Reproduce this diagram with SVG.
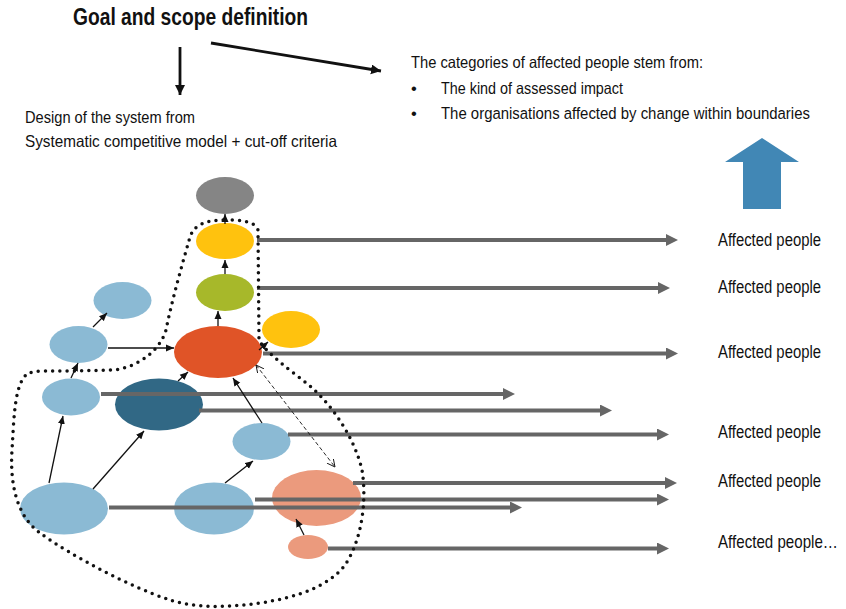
<svg xmlns="http://www.w3.org/2000/svg" width="846" height="609" viewBox="0 0 846 609">
<style>
.t{font-family:"Liberation Sans Narrow","Liberation Sans",Arial,sans-serif;fill:#111;}
.b{font-weight:bold;}
.g{stroke:#666;stroke-width:4;fill:none;marker-end:url(#ga);}
.k{stroke:#111;stroke-width:1.3;fill:none;marker-end:url(#ba);}
.lb{fill:#8BBAD4;}
</style>
<defs>
<marker id="ga" markerUnits="userSpaceOnUse" markerWidth="12" markerHeight="12" refX="0" refY="6" orient="auto"><path d="M0,0 L12,6 L0,12 Z" fill="#666"/></marker>
<marker id="ba" markerUnits="userSpaceOnUse" markerWidth="8" markerHeight="8" refX="8" refY="4" orient="auto"><path d="M0,0.5 L8,4 L0,7.5 Z" fill="#111"/></marker>
<marker id="bb" markerUnits="userSpaceOnUse" markerWidth="11" markerHeight="11" refX="10" refY="5" orient="auto"><path d="M0,0 L10,5 L0,10 Z" fill="#111"/></marker>
<marker id="op" markerUnits="userSpaceOnUse" markerWidth="10" markerHeight="10" refX="8" refY="4" orient="auto-start-reverse"><path d="M0,0 L8,4 L0,8" fill="none" stroke="#111" stroke-width="0.9"/></marker>
</defs>
<rect width="846" height="609" fill="#fff"/>

<g id="texts">
<text class="t b" x="73" y="25" font-size="23" textLength="235" lengthAdjust="spacingAndGlyphs">Goal and scope definition</text>
<text class="t" x="25" y="123" font-size="16.5" textLength="170" lengthAdjust="spacingAndGlyphs">Design of the system from</text>
<text class="t" x="25" y="147" font-size="16.5" textLength="312" lengthAdjust="spacingAndGlyphs">Systematic competitive model + cut-off criteria</text>
<text class="t" x="411" y="68" font-size="16.5" textLength="292" lengthAdjust="spacingAndGlyphs">The categories of affected people stem from:</text>
<text class="t" x="411" y="94" font-size="16.5">•</text>
<text class="t" x="441" y="94" font-size="16.5" textLength="182" lengthAdjust="spacingAndGlyphs">The kind of assessed impact</text>
<text class="t" x="411" y="119" font-size="16.5">•</text>
<text class="t" transform="translate(441,119) scale(0.85,1)" x="0" y="0" font-size="16.5" textLength="434" lengthAdjust="spacingAndGlyphs">The organisations affected by change within boundaries</text>
<text class="t" x="718" y="246" font-size="17.5" textLength="103" lengthAdjust="spacingAndGlyphs">Affected people</text>
<text class="t" x="718" y="293" font-size="17.5" textLength="103" lengthAdjust="spacingAndGlyphs">Affected people</text>
<text class="t" x="718" y="358" font-size="17.5" textLength="103" lengthAdjust="spacingAndGlyphs">Affected people</text>
<text class="t" x="718" y="438" font-size="17.5" textLength="103" lengthAdjust="spacingAndGlyphs">Affected people</text>
<text class="t" x="718" y="487" font-size="17.5" textLength="103" lengthAdjust="spacingAndGlyphs">Affected people</text>
<text class="t" transform="translate(718,548) scale(0.86,1)" x="0" y="0" font-size="17.5" textLength="139.5" lengthAdjust="spacingAndGlyphs">Affected people…</text>
</g>

<g id="up-arrow">
<polygon points="762,138 799,162 781,162 781,209 743,209 743,162 725,162" fill="#4187B5"/>
</g>

<g id="n-gray"><ellipse cx="225" cy="195.5" rx="29" ry="18.5" fill="#858585"/></g>
<g id="n-yellow-top"><ellipse cx="225" cy="241" rx="29" ry="18" fill="#FFC20E"/></g>
<g id="n-green"><ellipse cx="225" cy="292.5" rx="29" ry="18.5" fill="#A7B82A"/></g>
<g id="n-yellow-right"><ellipse cx="291" cy="329.5" rx="29" ry="18.5" fill="#FFC20E"/></g>
<g id="n-orange"><ellipse cx="218" cy="352" rx="44" ry="26" fill="#E05427"/></g>
<g id="n-blue-topleft"><ellipse class="lb" cx="122.5" cy="300.5" rx="29" ry="18.5"/></g>
<g id="n-blue-midleft"><ellipse class="lb" cx="78.5" cy="344.5" rx="29" ry="18.5"/></g>
<g id="n-blue-left"><ellipse class="lb" cx="71" cy="397" rx="29" ry="18.5"/></g>
<g id="n-darkblue"><ellipse cx="159" cy="404.5" rx="44" ry="26" fill="#316885"/></g>
<g id="n-blue-right"><ellipse class="lb" cx="261.5" cy="441.5" rx="29" ry="18.5"/></g>
<g id="n-blue-bigleft"><ellipse class="lb" cx="64" cy="508.5" rx="44" ry="26"/></g>
<g id="n-blue-bottom"><ellipse class="lb" cx="214" cy="508.5" rx="40" ry="26"/></g>
<g id="n-salmon-big"><ellipse cx="316.5" cy="498" rx="44.5" ry="28" fill="#EB9A7D"/></g>
<g id="n-salmon-small"><ellipse cx="308" cy="547" rx="20" ry="12" fill="#EB9A7D"/></g>

<g id="connectors">
<line class="g" x1="257" y1="240" x2="666" y2="240"/>
<line class="g" x1="257" y1="288" x2="658" y2="288"/>
<line class="g" x1="263" y1="353.5" x2="666" y2="353.5"/>
<line class="g" x1="101" y1="394" x2="503" y2="394"/>
<line class="g" x1="199" y1="410.5" x2="600" y2="410.5"/>
<line class="g" x1="288" y1="434.5" x2="657" y2="434.5"/>
<line class="g" x1="353" y1="483" x2="665" y2="483"/>
<line class="g" x1="255" y1="499.5" x2="657" y2="499.5"/>
<line class="g" x1="109" y1="507.5" x2="510" y2="507.5"/>
<line class="g" x1="328" y1="548.5" x2="657" y2="548.5"/>

<line class="k" x1="225" y1="224" x2="225" y2="214"/>
<line class="k" x1="225" y1="274" x2="225" y2="260"/>
<line class="k" x1="218" y1="326" x2="218" y2="311"/>
<line class="k" x1="93" y1="327" x2="107" y2="313"/>
<line class="k" x1="108" y1="348" x2="174" y2="348"/>
<line class="k" x1="71" y1="378" x2="78" y2="363"/>
<line class="k" x1="178" y1="381" x2="188" y2="372"/>
<line class="k" x1="262" y1="423" x2="233" y2="378"/>
<line class="k" x1="49" y1="483" x2="63" y2="416"/>
<line class="k" x1="93" y1="489" x2="144" y2="431"/>
<line class="k" x1="225" y1="483" x2="253" y2="461"/>
<line class="k" x1="304" y1="535" x2="296" y2="519"/>
<line class="k" x1="259" y1="350" x2="268" y2="342"/>
<line x1="256" y1="365" x2="335" y2="467" stroke="#111" stroke-width="0.9" stroke-dasharray="4 2.5" fill="none" marker-start="url(#op)" marker-end="url(#op)"/>

<line x1="180" y1="47" x2="180" y2="95" stroke="#111" stroke-width="2.8" marker-end="url(#bb)"/>
<line x1="211" y1="43" x2="381" y2="71" stroke="#111" stroke-width="2.8" marker-end="url(#bb)"/>
</g>

<g id="boundary">
<path d="M225,220 C240,220 255,221 258,230 L259,340 C265,352 290,370 310,386 C335,408 355,440 362,470 C367,500 362,540 345,565 C330,585 300,597 260,603 C230,607 200,609 170,600 C130,587 70,555 40,533 C15,515 10,480 12,450 C14,420 14,385 27,374 C35,370 50,371 70,371 L115,370 C140,366 160,350 166,330 C172,300 182,265 190,237 C194,225 205,220 225,220 Z" fill="none" stroke="#111" stroke-width="3.5" stroke-linecap="round" stroke-dasharray="0 7.2"/>
</g>
</svg>
